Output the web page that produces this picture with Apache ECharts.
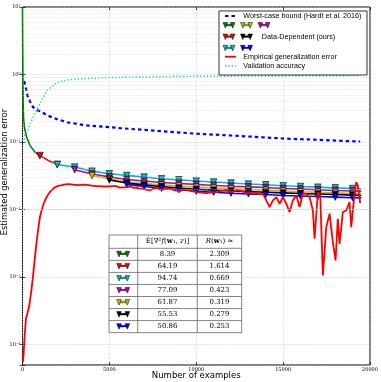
<!DOCTYPE html>
<html><head><meta charset="utf-8">
<script src="https://cdn.jsdelivr.net/npm/echarts@6/dist/echarts.min.js"></script>
<style>html,body{margin:0;padding:0;background:#fff}#c{width:381px;height:382px}</style>
</head><body><div id="c"></div>
<script>
// ---------- data ----------
const xTicks = [0, 5000, 10000, 15000, 20000];
const yTickLabels = {'-4':'10⁻⁴','-3':'10⁻³','-2':'10⁻²','-1':'10⁻¹','0':'10⁰','1':'10¹'};

const boundData = [[100,0.80],[126,0.77],[316,0.46],[603,0.33],[816,0.30],[1006,0.285],[1276,0.262],[1580,0.240],[2040,0.215],[2540,0.197],[3690,0.176],[5029,0.166],[5603,0.161],[7500,0.148],[10011,0.133],[12000,0.125],[14971,0.113],[17000,0.108],[18822,0.103],[19437,0.102]];

const validData = [[100,0.11],[144,0.134],[316,0.149],[431,0.188],[603,0.231],[1006,0.372],[1408,0.58],[1983,0.761],[2730,0.843],[3707,0.873],[5029,0.903],[7500,0.925],[10000,0.94],[15000,0.955],[19437,0.965]];

const ddGreen = [[0,10],[10,3],[25,0.8],[40,0.35],[60,0.22],[120,0.16],[240,0.118],[431,0.089],[718,0.071],[1000,0.063]];
const ddRed = [[1000,0.063],[1250,0.058],[1500,0.053],[1750,0.050],[2000,0.0466]];
const ddCyan = [[2000,0.0466],[3000,0.0426],[4000,0.0371],[5000,0.0340],[6000,0.0321],[7000,0.0303],[8000,0.0286],[9000,0.0277],[10000,0.0265],[11000,0.0256],[12000,0.0248],[13000,0.0239],[14000,0.0233],[15000,0.0226],[16000,0.0220],[17000,0.0215],[18000,0.0210],[19000,0.0205],[19500,0.0204]];
const ddMagenta = [[3000,0.0390],[4000,0.0337],[5000,0.0305],[6000,0.0279],[7000,0.0265],[8000,0.0252],[9000,0.0243],[10000,0.0236],[11000,0.0228],[12000,0.0222],[13000,0.0217],[14000,0.0212],[15000,0.0205],[16000,0.0201],[17000,0.0197],[18000,0.0192],[19000,0.0189],[19500,0.0188]];
const ddYellow = [[4000,0.0320],[5000,0.0285],[6000,0.0256],[7000,0.0243],[8000,0.0233],[9000,0.0224],[10000,0.0215],[11000,0.0209],[12000,0.0204],[13000,0.0198],[14000,0.0194],[15000,0.0189],[16000,0.0184],[17000,0.0181],[18000,0.0177],[19000,0.0173],[19500,0.0172]];
const ddBlack = [[5000,0.0275],[6000,0.0247],[7000,0.0232],[8000,0.0220],[9000,0.0209],[10000,0.0200],[11000,0.0194],[12000,0.0189],[13000,0.0185],[14000,0.0181],[15000,0.0177],[16000,0.0173],[17000,0.0170],[18000,0.0167],[19000,0.0164],[19500,0.0162]];
const ddBlue = [[6000,0.0236],[7000,0.0220],[8000,0.0207],[9000,0.0197],[10000,0.0187],[11000,0.0181],[12000,0.0175],[13000,0.0171],[14000,0.0167],[15000,0.0162],[16000,0.0159],[17000,0.0156],[18000,0.0153],[19000,0.0150],[19500,0.0149]];

const empData = [[20,5.5e-5],[60,7e-5],[120,1.3e-4],[200,2.45e-4],[280,2.9e-4],[390,3.8e-4],[500,6.0e-4],[600,1.0e-3],[700,1.8e-3],[820,3.5e-3],[920,5.5e-3],[1000,7.7e-3],[1100,9.8e-3],[1200,1.18e-2],[1300,1.38e-2],[1400,1.55e-2],[1500,1.7e-2],[1600,1.85e-2],[1700,1.98e-2],[1800,2.08e-2],[1900,2.18e-2],[2000,2.22e-2],[2100,2.3e-2],[2200,2.28e-2],[2300,2.4e-2],[2400,2.35e-2],[2500,2.46e-2],[2600,2.38e-2],[2700,2.44e-2],[2800,2.36e-2],[2900,2.42e-2],[3000,2.33e-2],[3100,2.38e-2],[3200,2.3e-2],[3300,2.44e-2],[3400,2.32e-2],[3500,2.26e-2],[3600,2.34e-2],[3700,2.25e-2],[3800,2.3e-2],[3900,2.2e-2],[4000,2.26e-2],[4100,2.18e-2],[4200,2.23e-2],[4300,2.15e-2],[4400,2.22e-2],[4500,2.27e-2],[4600,2.2e-2],[4700,2.28e-2],[4800,2.2e-2],[4900,2.14e-2],[5000,2.2e-2],[5100,2.12e-2],[5200,2.22e-2],[5300,2.16e-2],[5400,2.23e-2],[5500,2.14e-2],[5600,2.11e-2],[5700,2.17e-2],[5800,2.13e-2],[5900,2.2e-2],[6000,2.14e-2],[6200,2.2e-2],[6400,2.1e-2],[6563,2.11e-2],[6700,2.04e-2],[6925,2.05e-2],[7100,1.98e-2],[7328,1.92e-2],[7500,2.02e-2],[7713,2.11e-2],[7900,1.99e-2],[8075,1.97e-2],[8300,2.06e-2],[8477,2.04e-2],[8700,1.95e-2],[9052,1.88e-2],[9250,1.97e-2],[9437,1.97e-2],[9700,1.9e-2],[10011,1.82e-2],[10300,1.78e-2],[10586,1.75e-2],[10900,1.8e-2],[11161,1.82e-2],[11450,1.9e-2],[11736,1.97e-2],[11900,1.85e-2],[12115,1.82e-2],[12300,1.95e-2],[12500,1.92e-2],[12700,1.85e-2],[12885,1.72e-2],[13050,1.8e-2],[13264,1.75e-2],[13450,1.78e-2],[13649,1.68e-2],[13839,1.72e-2],[14034,1.37e-2],[14224,1.09e-2],[14414,1.37e-2],[14609,1.53e-2],[14799,1.22e-2],[14989,1.53e-2],[15184,1.22e-2],[15374,0.92e-2],[15563,1.37e-2],[15759,1.62e-2],[15948,1.09e-2],[16138,1.72e-2],[16333,1.72e-2],[16523,1.53e-2],[16713,0.97e-2],[16810,0.37e-2],[17000,1.82e-2],[17138,1.62e-2],[17287,0.106e-2],[17483,0.55e-2],[17672,0.87e-2],[17862,0.33e-2],[18017,0.177e-2],[18149,0.73e-2],[18247,0.31e-2],[18437,0.92e-2],[18632,0.97e-2],[18822,1.29e-2],[18920,0.55e-2],[19109,1.72e-2],[19207,2.55e-2],[19299,2.28e-2],[19437,1.25e-2]];

// table
const tableColors = ['#008000','#ff0000','#00bfbf','#bf00bf','#bfbf00','#000000','#0000ff'];
const hessVals = ['8.39','64.19','94.74','77.09','61.87','55.53','50.86'];
const rVals = ['2.309','1.614','0.669','0.423','0.319','0.279','0.253'];

// legend labels
const legendLabels = ['Worst-case bound (Hardt et al. 2016)', 'Data-Dependent (ours)', 'Empirical generalization error', 'Validation accuracy'];

// ---------- chart ----------
function ddSeries(name, color, data, z){
  return {
    name, type:'line', data: data.map(p => ({value:p, symbol: (p[0] % 1000 === 0 && p[0] > 0) ? 'triangle' : 'none'})),
    symbol:'triangle', symbolRotate:180, symbolSize:6.5, showAllSymbol:true,
    lineStyle:{color, width:1.6}, itemStyle:{color, borderColor:'#000', borderWidth:0.6},
    z
  };
}

const serifFont = 'DejaVu Serif';
const sansFont = 'Liberation Sans';
const gridL = 22.5, gridT = 7, gridR = 11, gridB = 17;
const yMin = 5e-5, yMax = 10;

// minor log grid positions (2..9 x 10^k)
const minorVals = [];
for (let k = -5; k <= 0; k++) for (let m = 2; m <= 9; m++) { const v = m * Math.pow(10, k); if (v > yMin && v < yMax) minorVals.push(v); }

const chart = echarts.init(document.getElementById('c'), null, {renderer:'canvas'});

// glyph of two down-triangles joined by a bar
function triIcon(x, y, col, w, h){
  w = w || 13; h = h || 5.6; const tw = 4.6;
  return {type:'group', children:[
    {type:'rect', z:12, shape:{x:x+tw/2, y:y+h*0.3, width:w-tw, height:h*0.3}, style:{fill:col, stroke:'#000', lineWidth:0.4}},
    {type:'polygon', z:13, shape:{points:[[x,y],[x+tw,y],[x+tw/2,y+h]]}, style:{fill:col, stroke:'#000', lineWidth:0.5}},
    {type:'polygon', z:13, shape:{points:[[x+w-tw,y],[x+w,y],[x+w-tw/2,y+h]]}, style:{fill:col, stroke:'#000', lineWidth:0.5}}
  ]};
}

const graphics = [];
// ---- legend (box, glyphs, text)
graphics.push({type:'rect', shape:{x:219, y:11, width:148, height:64}, style:{fill:'#fff', stroke:'#000', lineWidth:0.8}, z:10});
const legTxtStyle = (t, x, y) => ({type:'text', x, y, z:12, style:{text:t, fontFamily:sansFont, fontSize:7.2, fill:'#000', verticalAlign:'middle'}});
graphics.push({type:'line', z:12, shape:{x1:225, y1:16, x2:236, y2:16}, style:{stroke:'#0000ff', lineWidth:2.2, lineDash:[3.5,3]}});
graphics.push(legTxtStyle(legendLabels[0], 243.3, 16.3));
[['#008000',223,22.5],['#bfbf00',240.5,22.5],['#bf00bf',258,22.5],
 ['#ff0000',223,34],['#000000',240.5,34],
 ['#00bfbf',223,45.3],['#0000ff',240.5,45.3]].forEach(([c,x,y]) => graphics.push(triIcon(x, y, c, 12, 5.6)));
graphics.push(legTxtStyle(legendLabels[1], 261.7, 37));
graphics.push({type:'line', z:12, shape:{x1:225, y1:56.7, x2:236, y2:56.7}, style:{stroke:'#ff0000', lineWidth:1.8}});
graphics.push(legTxtStyle(legendLabels[2], 243.3, 56.9));
graphics.push({type:'line', z:12, shape:{x1:225, y1:66, x2:236, y2:66}, style:{stroke:'#00cccc', lineWidth:1.5, lineDash:[1.2,2.2]}});
graphics.push(legTxtStyle(legendLabels[3], 243.3, 66.2));

// ---- table
const tL = 109, tT = 235, tR = 241.7, c1 = 137.7, c2 = 197.3, hdrB = 248.3, rowH = 12.05;
const tB = hdrB + rowH * hessVals.length;
graphics.push({type:'rect', shape:{x:tL, y:tT, width:tR-tL, height:tB-tT}, style:{fill:'#fff', stroke:'#666', lineWidth:0.8}, z:10});
graphics.push({type:'line', shape:{x1:c1, y1:tT, x2:c1, y2:tB}, style:{stroke:'#666', lineWidth:0.8}, z:11});
graphics.push({type:'line', shape:{x1:c2, y1:tT, x2:c2, y2:tB}, style:{stroke:'#666', lineWidth:0.8}, z:11});
for (let i = 0; i < hessVals.length; i++) {
  const y = hdrB + i * rowH;
  graphics.push({type:'line', shape:{x1:tL, y1:y, x2:tR, y2:y}, style:{stroke:'#666', lineWidth:0.8}, z:11});
  const cy = y + rowH/2;
  graphics.push(triIcon(c1-21, cy-3, tableColors[i]));
  graphics.push({type:'text', x:(c1+c2)/2, y:cy, style:{text:hessVals[i], fontFamily:serifFont, fontSize:7, fill:'#000', align:'center', verticalAlign:'middle'}, z:12});
  graphics.push({type:'text', x:(c2+tR)/2, y:cy, style:{text:rVals[i], fontFamily:serifFont, fontSize:7, fill:'#000', align:'center', verticalAlign:'middle'}, z:12});
}
const richT = {n:{fontFamily:serifFont,fontSize:7,fill:'#000'}, i:{fontFamily:serifFont,fontSize:7,fontStyle:'italic',fill:'#000'}, b:{fontFamily:serifFont,fontSize:7,fontWeight:'bold',fill:'#000'}};
graphics.push({type:'text', x:(c1+c2)/2, y:(tT+hdrB)/2, z:12, style:{
  text:'{n|Ê[∇²}{i|f}{n|(}{b|w}{n|₁, }{i|z}{n|)]}', align:'center', verticalAlign:'middle', rich:richT}});
graphics.push({type:'text', x:(c2+tR)/2, y:(tT+hdrB)/2, z:12, style:{
  text:'{i|R}{n|(}{b|w}{n|₁) ≈}', align:'center', verticalAlign:'middle', rich:richT}});

const gridLine = {color:'#bbb', type:[1,1.6], width:0.7};
const tickStyle = {show:true, inside:true, length:3, lineStyle:{color:'#000', width:0.7}};
const option = {
  animation:false,
  backgroundColor:'#fff',
  grid:{left:gridL, top:gridT, right:gridR, bottom:gridB, show:true, borderColor:'#000', borderWidth:1, containLabel:false, outerBoundsMode:'none'},
  xAxis:[{
    type:'value', min:xTicks[0], max:xTicks[xTicks.length-1], interval:5000,
    name:'Number of examples', nameLocation:'middle', nameGap:6, nameMoveOverlap:false,
    nameTextStyle:{fontFamily:'DejaVu Sans', fontSize:8.5, color:'#000', verticalAlign:'top'},
    axisLine:{show:false}, axisTick:tickStyle,
    axisLabel:{fontFamily:serifFont, fontSize:5, color:'#000', margin:2, formatter:(v)=>String(v)},
    splitLine:{show:true, lineStyle:gridLine}
  },{
    type:'value', position:'top', min:xTicks[0], max:xTicks[xTicks.length-1], interval:5000,
    axisLine:{show:false}, axisTick:tickStyle, axisLabel:{show:false}, splitLine:{show:false}
  }],
  yAxis:[{
    type:'log', min:yMin, max:yMax, logBase:10,
    name:'Estimated generalization error', nameLocation:'middle', nameGap:13.5, nameMoveOverlap:false,
    nameTextStyle:{fontFamily:'DejaVu Sans', fontSize:8.3, color:'#000', padding:[0,0,0,28]},
    axisLine:{show:false}, axisTick:tickStyle,
    axisLabel:{fontFamily:serifFont, fontSize:5, color:'#000', margin:2, formatter:(v)=>{
      const e = Math.log10(v); const r = Math.round(e);
      return Math.abs(e - r) < 1e-6 && yTickLabels[String(r)] ? yTickLabels[String(r)] : '';
    }},
    splitLine:{show:true, lineStyle:gridLine}
  },{
    type:'log', position:'right', min:yMin, max:yMax, logBase:10,
    axisLine:{show:false}, axisTick:tickStyle, axisLabel:{show:false}, splitLine:{show:false}
  }],
  graphic: graphics,
  series:[
    {name:'minor grid', type:'line', data:[], silent:true, z:1,
     markLine:{silent:true, symbol:['none','none'], label:{show:false}, animation:false,
       lineStyle:{color:'#cfcfcf', type:[1,1.6], width:0.6},
       data: minorVals.map(v => ({yAxis:v}))}},
    {name:legendLabels[0], type:'line', data:boundData, symbol:'none',
     lineStyle:{color:'#0000ff', width:2.2, type:[3.5,3]}, itemStyle:{color:'#0000ff'}, z:2},
    ddSeries('DD w1 #1', '#008000', ddGreen, 3),
    ddSeries('DD w1 #2', '#ff0000', ddRed, 3),
    ddSeries('DD w1 #3', '#00bfbf', ddCyan, 3),
    ddSeries('DD w1 #4', '#bf00bf', ddMagenta, 3),
    ddSeries('DD w1 #5', '#bfbf00', ddYellow, 3),
    ddSeries('DD w1 #6', '#000000', ddBlack, 3),
    ddSeries('DD w1 #7', '#0000ff', ddBlue, 3),
    {name:legendLabels[2], type:'line', data:empData, symbol:'none',
     lineStyle:{color:'#ff0000', width:1.8}, itemStyle:{color:'#ff0000'}, z:4},
    {name:legendLabels[3], type:'line', data:validData, symbol:'none',
     lineStyle:{color:'#00cccc', width:1.5, type:[1.2,2.2]}, itemStyle:{color:'#00cccc'}, z:4}
  ]
};
chart.setOption(option);
</script></body></html>
